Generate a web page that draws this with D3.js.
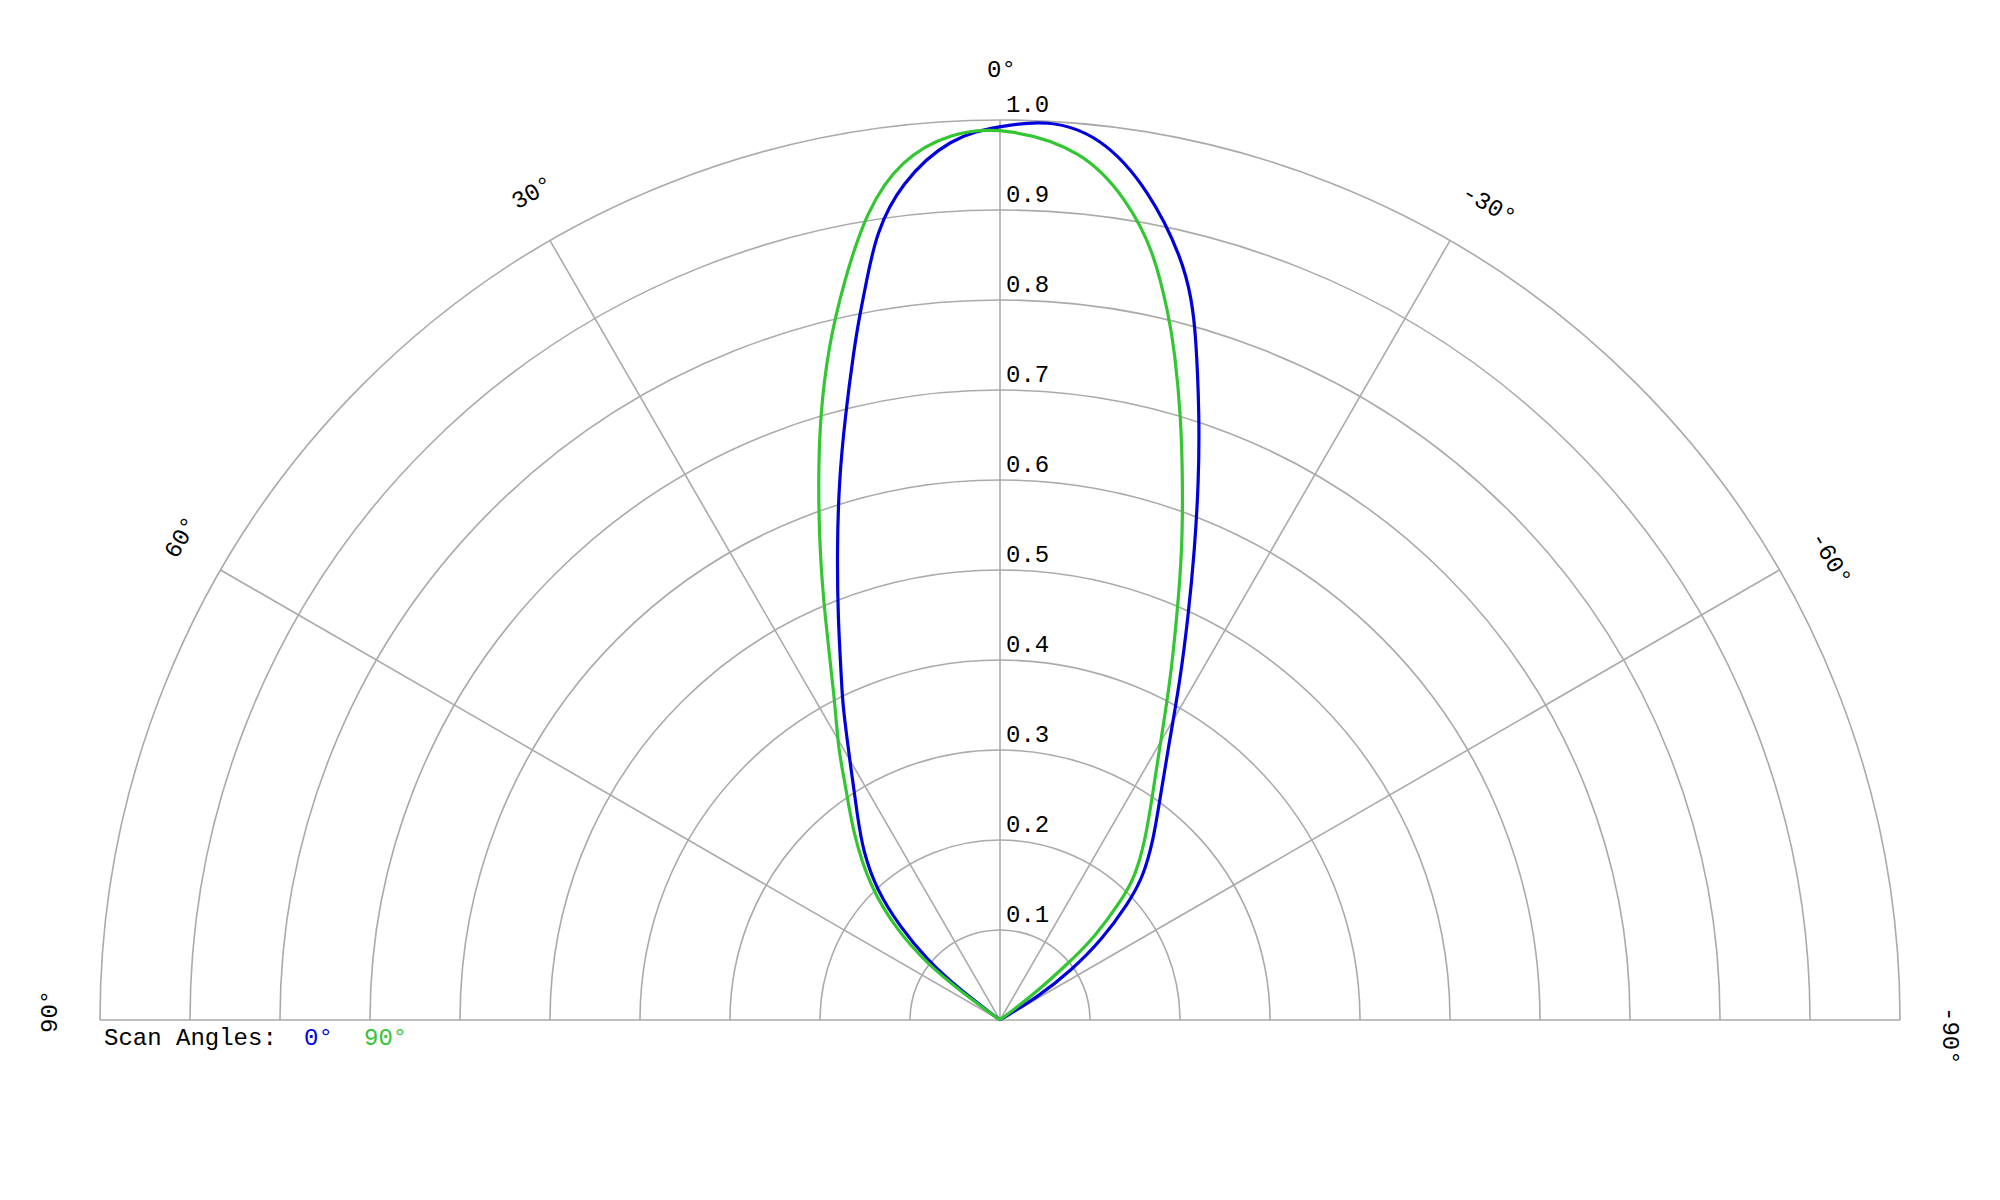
<!DOCTYPE html>
<html>
<head>
<meta charset="utf-8">
<script src="https://cdn.jsdelivr.net/npm/d3@7"></script>
<style>
  html, body { margin: 0; padding: 0; background: #ffffff; }
  svg { display: block; }
  text { font-family: "Liberation Mono", "Courier New", "DejaVu Sans Mono", monospace; }
</style>
</head>
<body>
<svg id="chart" width="2000" height="1200"></svg>
<script>
// ---- data (angle in degrees, positive = left of 0°; relative intensity) ----
const seriesNames = ["0°", "90°"];
const scan0Angles = [90, 56, 53, 50.5, 47, 43.5, 39, 35, 30.5, 26.5, 25.2, 21.9, 19.1, 16.7, 14.4, 12.3, 11.3, 10.3, 8.95, 6.8, 3.2, 0,
  -3, -6.5, -10.2, -13.5, -14.9, -15.9, -18.3, -20.3, -22.5, -25, -28.1, -31.9, -36, -40.4, -45, -47.7, -51.8, -55.1, -58.7, -61, -90];
const scan0Values = [0, 0, 0.056, 0.105, 0.152, 0.199, 0.242, 0.276, 0.327, 0.392, 0.413, 0.483, 0.553, 0.623, 0.692, 0.762, 0.797, 0.832, 0.885, 0.936, 0.983, 0.993,
  1.002, 0.989, 0.937, 0.869, 0.828, 0.794, 0.706, 0.636, 0.565, 0.495, 0.424, 0.353, 0.302, 0.263, 0.225, 0.193, 0.144, 0.097, 0.050, 0, 0];
const scan90Angles = [90, 56.5, 54, 52.3, 48.9, 44.3, 38.2, 33.2, 30.9, 27.3, 23.5, 21, 18.7, 16.6, 14.3, 12, 9.35, 6.6, 3.2, -0.4,
  -5.5, -8.8, -11.3, -13.5, -14.6, -16.7, -18.8, -21.2, -23.7, -26.8, -30.5, -34.6, -38.9, -43.3, -45.4, -48.8, -50.3, -52.7, -55, -90];
const scan90Values = [0, 0, 0.050, 0.103, 0.152, 0.207, 0.264, 0.314, 0.350, 0.400, 0.488, 0.559, 0.630, 0.700, 0.772, 0.837, 0.912, 0.962, 0.988, 0.992,
  0.971, 0.922, 0.872, 0.804, 0.769, 0.700, 0.630, 0.560, 0.489, 0.419, 0.349, 0.297, 0.257, 0.219, 0.190, 0.140, 0.099, 0.049, 0, 0];
const ringValues = [0.1, 0.2, 0.3, 0.4, 0.5, 0.6, 0.7, 0.8, 0.9, 1.0];
const ringLabels = ["0.1", "0.2", "0.3", "0.4", "0.5", "0.6", "0.7", "0.8", "0.9", "1.0"];
const spokeAngles = [-60, -30, 0, 30, 60];
const angleLabelAngles = [90, 60, 30, 0, -30, -60, -90];
const angleLabels = ["90°", "60°", "30°", "0°", "-30°", "-60°", "-90°"];
const legendTitle = "Scan Angles:";

// ---- layout ----
const cx = 1000, cy = 1020, R = 900;
const colors = ["#0000dd", "#33c633"];
const gridColor = "#aaaaaa";
const svg = d3.select("#chart");
const g = svg.append("g").attr("transform", `translate(${cx},${cy})`);

const r = d3.scaleLinear().domain([0, 1]).range([0, R]);
const toRad = d => -d * Math.PI / 180; // positive angles drawn to the left

// rings (upper semicircles)
g.selectAll("path.ring").data(ringValues).join("path")
  .attr("class", "ring")
  .attr("d", d => {
    const rr = r(d);
    return `M${-rr},0A${rr},${rr} 0 0 1 ${rr},0`;
  })
  .attr("fill", "none").attr("stroke", gridColor).attr("stroke-width", 1.6);

// baseline (±90°)
g.append("line").attr("x1", -r(1)).attr("x2", r(1)).attr("y1", 0).attr("y2", 0)
  .attr("stroke", gridColor).attr("stroke-width", 1.6);

// spokes
g.selectAll("line.spoke").data(spokeAngles).join("line")
  .attr("class", "spoke")
  .attr("x1", 0).attr("y1", 0)
  .attr("x2", d => r(1) * Math.sin(toRad(d)))
  .attr("y2", d => -r(1) * Math.cos(toRad(d)))
  .attr("stroke", gridColor).attr("stroke-width", 1.6);

// ring labels
g.selectAll("text.rl").data(ringValues).join("text")
  .attr("class", "rl")
  .attr("x", 6).attr("y", d => -r(d) - 8)
  .attr("font-size", 24).attr("fill", "#000")
  .text((d, i) => ringLabels[i]);

// angle labels
const labR = 943;
g.selectAll("g.al").data(angleLabelAngles).join("g")
  .attr("class", "al")
  .attr("transform", d => {
    const a = toRad(d);
    return `translate(${labR * Math.sin(a)},${-labR * Math.cos(a)}) rotate(${-d})`;
  })
  .append("text")
  .attr("x", -13).attr("y", 0)
  .attr("font-size", 24).attr("fill", "#000")
  .text((d, i) => angleLabels[i]);

// curves
const line = d3.lineRadial()
  .angle(d => toRad(d[0]))
  .radius(d => r(d[1]))
  .curve(d3.curveBasis);
const series = [
  d3.zip(scan0Angles, scan0Values),
  d3.zip(scan90Angles, scan90Values)
];
g.selectAll("path.curve").data(series).join("path")
  .attr("class", "curve")
  .attr("d", line)
  .attr("fill", "none")
  .attr("stroke", (d, i) => colors[i])
  .attr("stroke-width", 3.2)
  .attr("stroke-linejoin", "round");

// legend
const leg = svg.append("g").attr("font-size", 24);
leg.append("text").attr("x", 104).attr("y", 1045).attr("fill", "#000").text(legendTitle);
const legX = [304, 364];
seriesNames.forEach((n, i) => {
  leg.append("text").attr("x", legX[i]).attr("y", 1045).attr("fill", colors[i]).text(n);
});
</script>
</body>
</html>
